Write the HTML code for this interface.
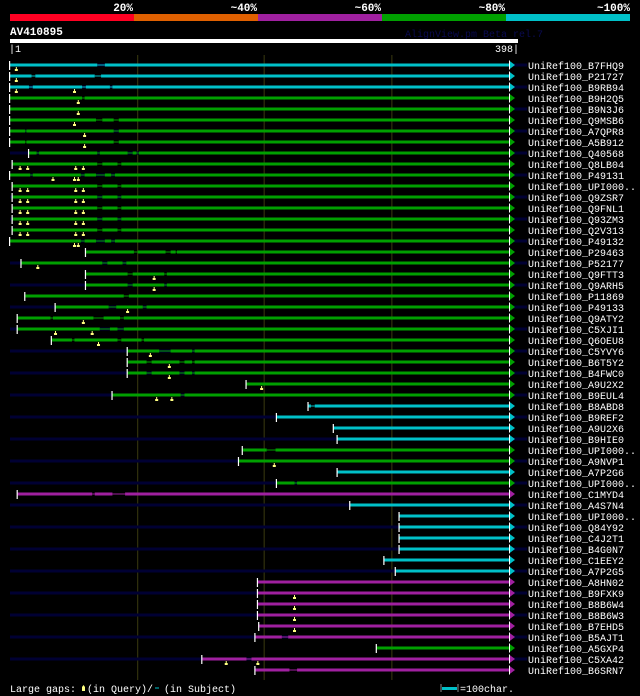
<!DOCTYPE html>
<html><head><meta charset="utf-8"><style>
html,body{margin:0;padding:0;background:#000;}
body{width:640px;height:696px;overflow:hidden;}
svg{display:block;font-family:"Liberation Mono","DejaVu Sans Mono",monospace;}
</style></head><body>
<svg id="chart" width="640" height="696" viewBox="0 0 640 696" xmlns="http://www.w3.org/2000/svg">
<g>
<rect x="10" y="14" width="124" height="7" fill="#ff0022"/>
<rect x="134" y="14" width="124" height="7" fill="#e06000"/>
<rect x="258" y="14" width="124" height="7" fill="#a020a0"/>
<rect x="382" y="14" width="124" height="7" fill="#00a000"/>
<rect x="506" y="14" width="124" height="7" fill="#00c0c8"/>
<g fill="#fff" font-size="11" font-weight="bold" text-anchor="end">
<text x="133" y="11">20%</text><text x="257" y="11">~40%</text><text x="381" y="11">~60%</text><text x="505" y="11">~80%</text><text x="630" y="11">~100%</text>
</g></g>
<text x="10" y="35" fill="#fff" font-size="11" font-weight="bold">AV410895</text>
<text x="405" y="37" fill="#0a0a50" font-size="10">AlignView.pm Beta rel.7</text>
<rect x="10" y="39" width="508" height="4" fill="#fff"/>
<text x="9" y="52" fill="#fff" font-size="10">|1</text>
<text x="519" y="52" fill="#fff" font-size="10" text-anchor="end">398|</text>
<g id="grid"></g>
<g id="rows"></g>
<g>
<text x="10" y="692" fill="#fff" font-size="10">Large gaps:</text>
<path d="M82 691 L82 687 L83.5 685 L85 687 L85 691 Z" fill="#ffff80"/>
<text x="87" y="692" fill="#fff" font-size="10">(in Query)/</text>
<line x1="155" y1="688" x2="159" y2="688" stroke="#00c0c8" stroke-width="1"/>
<text x="164" y="692" fill="#fff" font-size="10">(in Subject)</text>
<line x1="441" y1="684" x2="441" y2="692" stroke="#888" stroke-width="1"/>
<rect x="442" y="687" width="15" height="3" fill="#00c0c8"/>
<line x1="458" y1="684" x2="458" y2="692" stroke="#888" stroke-width="1"/>
<text x="460" y="692" fill="#fff" font-size="10">=100char.</text>
</g>
</svg>
<script>
const names=["B7FHQ9","P21727","B9RB94","B9H2Q5","B9N3J6","Q9MSB6","A7QPR8","A5B912","Q40568","Q8LB04","P49131","UPI000..","Q9ZSR7","Q9FNL1","Q93ZM3","Q2V313","P49132","P29463","P52177","Q9FTT3","Q9ARH5","P11869","P49133","Q9ATY2","C5XJI1","Q6OEU8","C5YVY6","B6T5Y2","B4FWC0","A9U2X2","B9EUL4","B8ABD8","B9REF2","A9U2X6","B9HIE0","UPI000..","A9NVP1","A7P2G6","UPI000..","C1MYD4","A4S7N4","UPI000..","Q84Y92","C4J2T1","B4G0N7","C1EEY2","A7P2G5","A8HN02","B9FXK9","B8B6W4","B8B6W3","B7EHD5","B5AJT1","A5GXP4","C5XA42","B6SRN7"];
const starts=[1,1,1,1,1,1,1,1,16,3,1,3,3,3,3,3,1,61,10,61,61,13,37,7,7,34,94,94,94,188,82,237,212,257,260,185,182,260,212,7,270,309,309,309,309,297,306,197,197,197,197,198,195,291,153,195];
const classes=["c","c","c","g","g","g","g","g","g","g","g","g","g","g","g","g","g","g","g","g","g","g","g","g","g","g","g","g","g","g","g","c","c","c","c","g","g","c","g","p","c","c","c","c","c","c","c","p","p","p","p","p","p","g","p","p"];
const gaps=[[[70,76]],[[18,21],[68,73]],[[16,19],[58,61],[80,82]],[[58,60]],[],[[69,74],[83,87]],[[13,14],[83,87]],[[13,14],[83,87]],[[22,24],[70,72],[94,98],[101,103]],[[70,74],[86,89]],[[17,19],[57,60],[69,76],[81,84]],[[70,74],[86,89]],[[70,74],[86,89]],[[70,74],[86,89]],[[70,74],[86,89]],[[70,74],[86,89]],[[57,60],[69,76],[81,84]],[[99,102],[124,128],[132,133]],[[74,78],[90,93]],[[94,98],[123,125]],[[94,98],[123,125]],[[91,95]],[[79,85],[106,109]],[[33,35],[67,75],[88,91]],[[72,80],[86,91]],[[50,52],[86,89],[105,107]],[[119,128],[145,147]],[[109,113],[135,139],[145,147]],[[109,113],[135,139],[145,147]],[],[[136,139]],[[239,242]],[],[],[],[[204,211]],[],[],[[226,228]],[[66,68],[82,92]],[],[],[],[],[],[],[],[],[],[],[],[],[[216,221]],[],[[188,192]],[[222,228]]];
const gapMarks=[[6],[6],[6,52],[55],[55],[52],[60],[60],[],[9,15,53,59],[35,52,55],[9,15,53,59],[9,15,53,59],[9,15,53,59],[9,15,53,59],[9,15,53,59],[52,55],[],[23],[115],[115],[],[94],[59],[37,66],[71],[112],[127],[127],[200],[117,129],[],[],[],[],[],[210],[],[],[],[],[],[],[],[],[],[],[],[226],[226],[226],[226],[],[],[172,197],[]];
const qLen=398;
const gridQ=[102,202,303];
const colorMap={c:"#00c0c8",g:"#00a000",p:"#a020a0"};
const NS="http://www.w3.org/2000/svg";
function xs(q){return 10+(q-1)*502/(qLen-1);}
function ys(i){return 65+i*11;}
function mk(tag,attrs,parent){const e=document.createElementNS(NS,tag);for(const k in attrs)e.setAttribute(k,attrs[k]);parent.appendChild(e);return e;}
const grid=document.getElementById('grid');
gridQ.forEach(q=>{
  const l=mk('line',{x1:xs(q),x2:xs(q),y1:55,y2:680,stroke:'#3a3a10','stroke-width':1},grid);
  
  
});
const rowsG=document.getElementById('rows');
names.forEach((n,i)=>{
  const y=ys(i);
  const g=mk('g',{},rowsG);
  
  
  if(i%2===0){mk('rect',{x:10,y:y-1.5,width:517,height:3,fill:'#000033'},g);}
  const col=colorMap[classes[i]];
  const x0=xs(starts[i]),x1=xs(qLen);
  const gp=gaps[i];let cur=x0;
  gp.forEach(([a,b])=>{
    mk('rect',{x:cur,y:y-1.5,width:Math.max(0,xs(a)-cur),height:3,fill:col},g);
    mk('rect',{x:xs(a),y:y-0.5,width:xs(b)-xs(a),height:1,fill:col},g);
    cur=xs(b);
  });
  mk('rect',{x:cur,y:y-1.5,width:x1-cur-3,height:3,fill:col},g);
  mk('path',{d:`M${x1-3} ${y-4.5} L${x1+3} ${y} L${x1-3} ${y+4.5} Z`,fill:col},g);
  mk('rect',{x:x0-1,y:y-4,width:1.2,height:9,fill:'#fff'},g);
  mk('rect',{x:x1-3,y:y-4.5,width:1,height:9,fill:'#fff'},g);
  gapMarks[i].forEach(q=>{
    const mx=xs(q);
    const m=mk('path',{d:`M${mx-1.5} ${y+6} L${mx-1.5} ${y+4} L${mx-0.5} ${y+4} L${mx-0.5} ${y+2} L${mx+0.5} ${y+2} L${mx+0.5} ${y+4} L${mx+1.5} ${y+4} L${mx+1.5} ${y+6} Z`,fill:'#ffff80'},g);
    
    
  });
  const t=mk('text',{x:528,y:y+4,fill:'#fff','font-size':10},g);
  t.textContent='UniRef100_'+n;
  
  
});
</script>
</body></html>
